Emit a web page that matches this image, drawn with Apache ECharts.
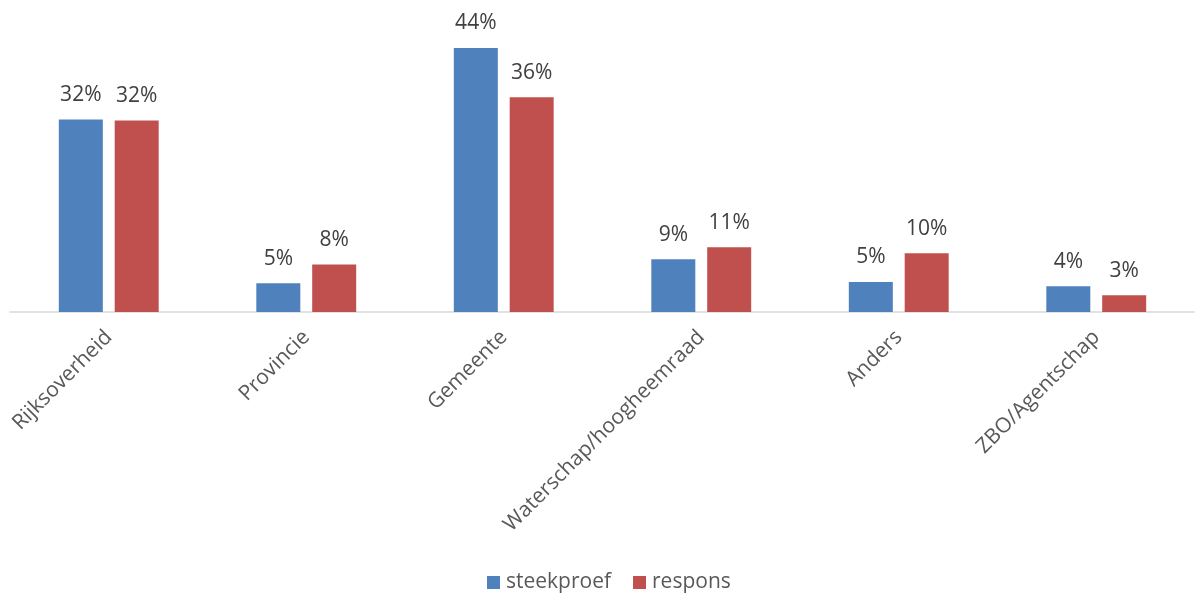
<!DOCTYPE html>
<html><head><meta charset="utf-8">
<script src="https://cdn.jsdelivr.net/npm/echarts@6/dist/echarts.min.js"></script>
<style>html,body{margin:0;padding:0;background:#fff}#c{width:1195px;height:599px}</style>
</head><body><div id="c"></div>
<script>
const categories = ['Rijksoverheid','Provincie','Gemeente','Waterschap/hoogheemraad','Anders','ZBO/Agentschap'];
const steekproef = [32.1, 4.8, 44.0, 8.8, 5.0, 4.3];
const respons = [31.9, 7.9, 35.8, 10.8, 9.8, 2.8];
const seriesNames = ['steekproef','respons'];
const FONT = '"Open Sans", "Noto Sans", sans-serif';
const chart = echarts.init(document.getElementById('c'));
const lbl = {show:true, position:'top', distance:14, color:'#404040', fontSize:21, fontFamily:FONT,
  formatter: p => Math.round(p.value) + '%'};
chart.setOption({
  animation:false,
  grid:{left:10, width:1191, top:12, bottom:287, containLabel:false},
  legend:{top:567, left:482, itemWidth:13, itemHeight:13, itemGap:22,
    textStyle:{color:'#595959', fontSize:21, fontFamily:FONT, padding:[0,0,0,1]},
    data:[{name:seriesNames[0], icon:'rect'},{name:seriesNames[1], icon:'rect'}]},
  xAxis:{type:'category', data:categories,
    axisLine:{lineStyle:{color:'#d9d9d9', width:1.5}}, axisTick:{show:false},
    axisLabel:{rotate:45, interval:0, color:'#595959', fontSize:21, fontFamily:FONT, margin:22}},
  yAxis:{type:'value', min:0, max:50, show:false, splitLine:{show:false}},
  series:[
    {name:seriesNames[0], type:'bar', data:steekproef, barWidth:44, barGap:'27%',
      itemStyle:{color:'#4f81bd'}, label:lbl},
    {name:seriesNames[1], type:'bar', data:respons, barWidth:44,
      itemStyle:{color:'#c0504d'}, label:lbl}
  ]
});
</script></body></html>
